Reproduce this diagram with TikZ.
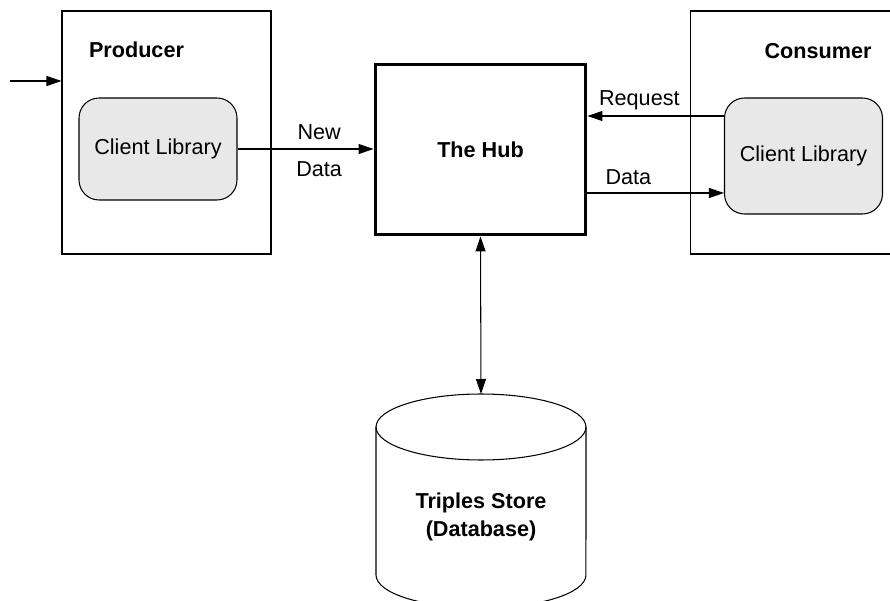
\documentclass[tikz,border=0pt]{standalone}
\usepackage{fontspec}
\setmainfont{Liberation Sans}
\usetikzlibrary{arrows.meta}

\begin{document}
\begin{tikzpicture}[x=0.02cm,y=-0.02cm,>={Triangle[length=0.3cm,width=0.2cm]},
                    line width=0.6pt,font=\fontsize{12.3}{14.8}\selectfont]
  \tikzstyle{block}=[draw,minimum width=4.18cm,minimum height=4.86cm]
  \tikzstyle{client}=[draw,fill=gray!18,rounded corners=0.4cm,minimum width=3.16cm]
  \tikzstyle{title}=[font=\fontsize{12.3}{16.4}\selectfont\bfseries]

  \clip (0,0) rectangle (890,601);

  \node[block] (P) at (166.5,132.5) {};
  \node[block] (C) at (795,132.5) {};
  \node[title] (Pt) at (136.5,50) {Producer};
  \node[title] (Ct) at (818,51) {Consumer};
  \node[client,minimum height=2.04cm] (PL) at (158,149) {Client Library};
  \node[client,minimum height=2.32cm] (CL) at (803.5,156) {Client Library};
  \node[title,draw,line width=1.7pt,minimum width=4.22cm,minimum height=3.42cm] (H) at (480.5,149.5) {The Hub};

  % the database
  \draw (376,427) -- (376,575) arc[start angle=180,end angle=360,x radius=2.1cm,y radius=0.66cm] -- (586,427);
  \draw (481,427) ellipse [x radius=2.1cm,y radius=0.66cm];
  \node[title,align=center] (S) at (481,517) {Triples Store\\(Database)};
  \coordinate (St) at (481,394);

  \coordinate (in) at (10,81);
  \coordinate (Hr) at ([yshift=0.67cm]H.east);
  \coordinate (Hd) at ([yshift=-0.87cm]H.east);

  \draw[->] (in) -- (in -| P.west);
  \draw[->] (PL.east) -- (PL.east -| H.west) node[pos=0.6,above,yshift=1.5pt] {New} node[pos=0.6,below,yshift=-3.4pt] {Data};
  \draw[->] (CL.west |- Hr) -- (Hr) node[pos=0.62,above] {Request};
  \draw[->] (Hd) -- (Hd -| CL.west) node[pos=0.3,above,yshift=0.8pt] {Data};
  \draw[<->] (H.south) -- (St);
\end{tikzpicture}
\end{document}
